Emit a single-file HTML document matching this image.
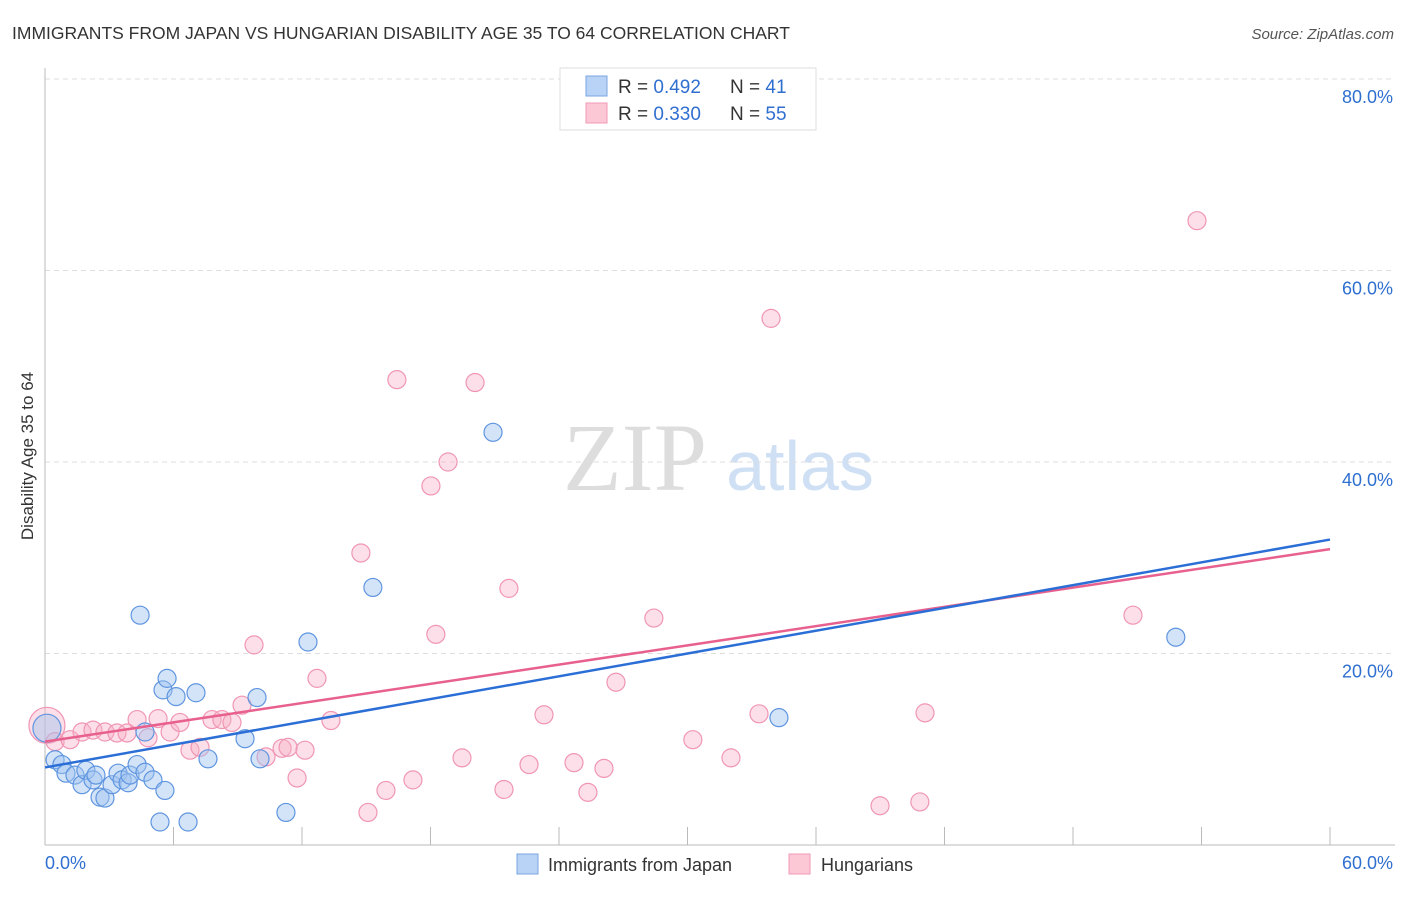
<!DOCTYPE html>
<html><head><meta charset="utf-8"><style>
body{margin:0;background:#fff;font-family:"Liberation Sans",sans-serif;}
</style></head><body>
<svg width="1406" height="892" xmlns="http://www.w3.org/2000/svg" style="font-family:'Liberation Sans',sans-serif">
<text x="12" y="39" font-size="17.5" fill="#333">IMMIGRANTS FROM JAPAN VS HUNGARIAN DISABILITY AGE 35 TO 64 CORRELATION CHART</text>
<text x="1394" y="39" font-size="15" fill="#555" font-style="italic" text-anchor="end">Source: ZipAtlas.com</text>
<g>
<text x="635" y="490" font-size="96" fill="#ddd" font-family="'Liberation Serif',serif" text-anchor="middle">ZIP</text>
<text x="800" y="490" font-size="70" fill="#cfe0f5" text-anchor="middle">atlas</text>
</g>
<g id="grid"></g>
<g id="axes"></g>
<text x="33" y="456" font-size="17" fill="#333" text-anchor="middle" transform="rotate(-90 33 456)">Disability Age 35 to 64</text>
<g id="pts"></g>
<g id="trend"></g>
<g>
<rect x="560" y="68" width="256" height="62" fill="#fff" stroke="#ddd"/>
<rect x="586" y="76" width="21" height="20" fill="#b8d3f5" stroke="#7aa6e0"/>
<rect x="586" y="103" width="21" height="20" fill="#fcc8d6" stroke="#f09ab5"/>
<text x="618" y="93" font-size="19" fill="#333">R = <tspan fill="#2f6fd0">0.492</tspan></text>
<text x="730" y="93" font-size="19" fill="#333">N = <tspan fill="#2f6fd0"> 41</tspan></text>
<text x="618" y="120" font-size="19" fill="#333">R = <tspan fill="#2f6fd0">0.330</tspan></text>
<text x="730" y="120" font-size="19" fill="#333">N = <tspan fill="#2f6fd0">55</tspan></text>
</g>
<g>
<rect x="517" y="854" width="21" height="20" fill="#b8d3f5" stroke="#7aa6e0"/>
<text x="548" y="871" font-size="18" fill="#333">Immigrants from Japan</text>
<rect x="789" y="854" width="21" height="20" fill="#fcc8d6" stroke="#f09ab5"/>
<text x="821" y="871" font-size="18" fill="#333">Hungarians</text>
</g>
</svg>
<script>
const xTicks=[0,6,12,18,24,30,36,42,48,54,60];
const yTicks=[20,40,60,80];
const yTickLabels=["20.0%","40.0%","60.0%","80.0%"];
const xEndLabels=["0.0%","60.0%"];
const blueX=[0.09,0.47,0.79,0.98,1.4,1.73,1.91,2.24,2.38,2.57,2.8,3.13,3.41,3.6,3.88,3.97,4.3,4.67,5.04,5.37,6.68,5.6,4.67,4.44,5.51,5.7,6.12,7.05,7.61,9.34,9.9,10.04,11.25,12.28,15.31,20.92,34.27,52.8];
const blueY=[12.2,8.9,8.4,7.5,7.3,6.3,7.8,6.8,7.3,5.0,4.9,6.3,7.5,6.8,6.5,7.3,8.4,7.6,6.8,2.4,2.4,5.7,11.8,24.0,16.2,17.4,15.5,15.9,9.0,11.1,15.4,9.0,3.4,21.2,26.9,43.1,13.3,21.7];
const pinkX=[0.09,0.47,1.17,1.73,2.24,2.8,3.36,3.83,4.3,4.81,5.28,5.84,6.3,6.77,7.24,7.8,8.26,8.73,9.2,9.76,10.32,11.07,11.35,11.77,12.14,12.7,13.35,14.75,15.08,15.92,16.43,17.18,18.02,18.25,18.82,19.47,20.08,21.43,21.66,22.6,23.3,24.7,25.35,26.1,26.66,28.43,30.25,32.03,33.34,33.9,38.99,40.85,41.09,50.8,53.79];
const pinkY=[12.5,10.8,11.0,11.8,12.0,11.8,11.7,11.7,13.1,11.2,13.2,11.8,12.8,9.9,10.2,13.1,13.1,12.8,14.6,20.9,9.2,10.1,10.2,7.0,9.9,17.4,13.0,30.5,3.4,5.7,48.6,6.8,37.5,22.0,40.0,9.1,48.3,5.8,26.8,8.4,13.6,8.6,5.5,8.0,17.0,23.7,11.0,9.1,13.7,55.0,4.1,4.5,13.8,24.0,65.2];
const blueTrend=[8.1,31.9];
const pinkTrend=[10.8,30.9];
const NS="http://www.w3.org/2000/svg";
const X=v=>45+v/60*1285, Y=v=>845-v/80*766;
function mk(tag,attrs,parent,txt){const e=document.createElementNS(NS,tag);for(const k in attrs)e.setAttribute(k,attrs[k]);if(txt!==undefined)e.textContent=txt;document.getElementById(parent).appendChild(e);return e;}
yTicks.forEach((t,i)=>{
 const g=mk('line',{x1:45,x2:1395,y1:Y(t),y2:Y(t),stroke:'#ddd','stroke-dasharray':'5,4'},'grid');
 
 
 const l=mk('text',{x:1393,y:Y(t)+24,'font-size':18,fill:'#2f6fd0','text-anchor':'end'},'axes',yTickLabels[i]);
 
 
});
let a=mk('line',{x1:45,x2:45,y1:68,y2:845,stroke:'#bbb'},'axes');


a=mk('line',{x1:45,x2:1395,y1:845,y2:845,stroke:'#bbb'},'axes');


xTicks.forEach(t=>{const k=mk('line',{x1:X(t),x2:X(t),y1:827,y2:845,stroke:'#bbb'},'axes');
 
 });
let xl=mk('text',{x:45,y:869,'font-size':18,fill:'#2f6fd0'},'axes',xEndLabels[0]);


xl=mk('text',{x:1393,y:869,'font-size':18,fill:'#2f6fd0','text-anchor':'end'},'axes',xEndLabels[1]);


pinkX.forEach((v,i)=>{const c=mk('circle',{cx:X(v),cy:Y(pinkY[i]),r:i==0?18:9,fill:'rgba(248,175,198,0.4)',stroke:'#f096b4','stroke-width':1.2},'pts');
 
 });
blueX.forEach((v,i)=>{const c=mk('circle',{cx:X(v),cy:Y(blueY[i]),r:i==0?14:9,fill:'rgba(160,195,240,0.45)',stroke:'#5f95e0','stroke-width':1.2},'pts');
 
 });
let tl=mk('line',{x1:X(0),x2:X(60),y1:Y(pinkTrend[0]),y2:Y(pinkTrend[1]),stroke:'#e8608e','stroke-width':2.5},'trend');


tl=mk('line',{x1:X(0),x2:X(60),y1:Y(blueTrend[0]),y2:Y(blueTrend[1]),stroke:'#2b6fd6','stroke-width':2.5},'trend');


</script>
</body></html>
